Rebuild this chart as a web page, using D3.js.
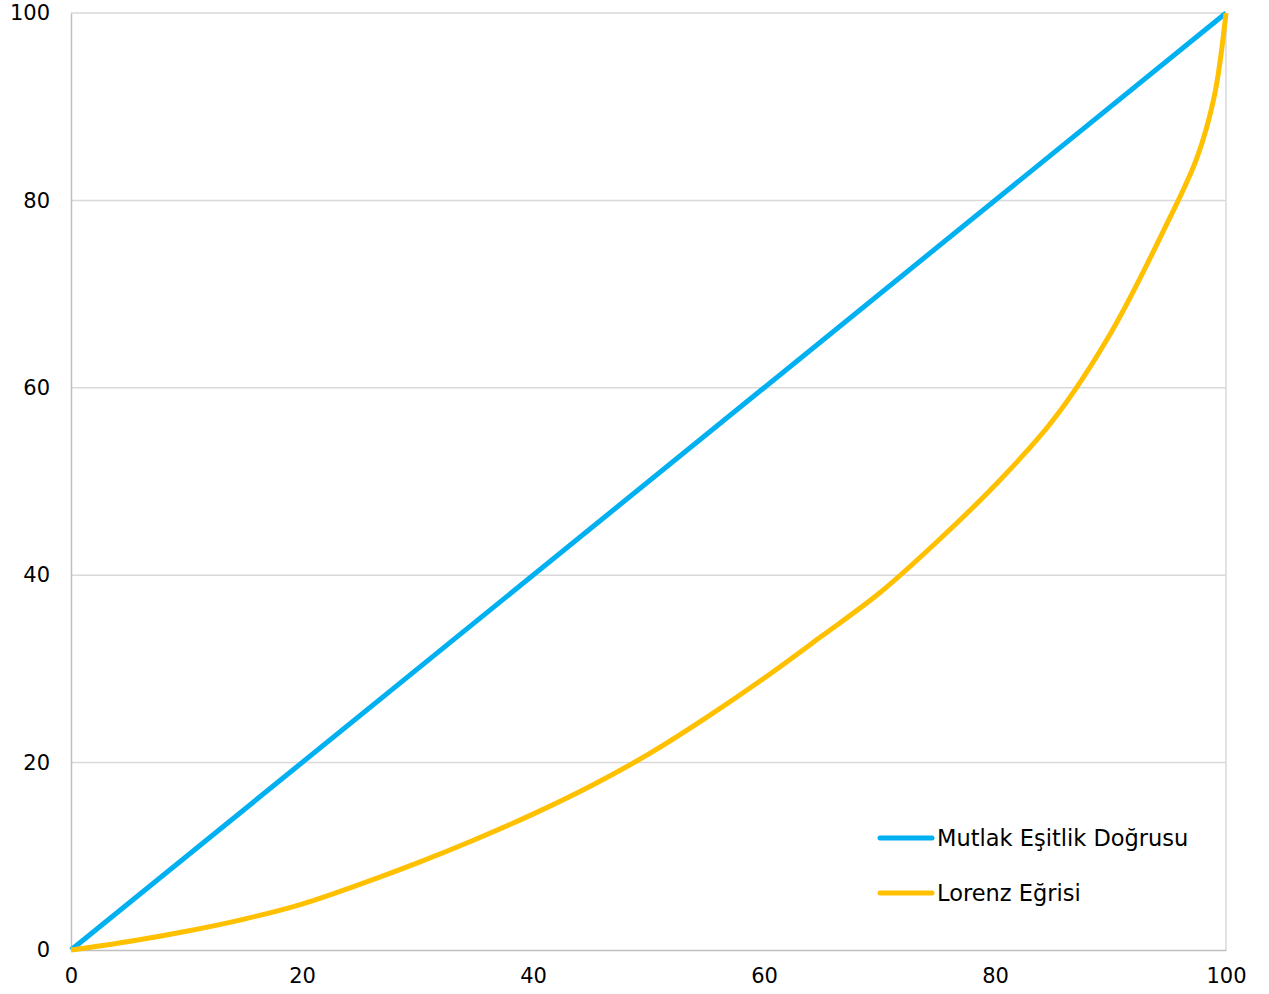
<!DOCTYPE html>
<html><head><meta charset="utf-8">
<script src="https://cdn.jsdelivr.net/npm/d3@7"></script>
<style>
html,body{margin:0;padding:0;background:#fff;}
text{font-family:"DejaVu Sans",sans-serif;fill:#000;}
</style></head>
<body><svg id="c" width="1269" height="994"></svg>
<script>
const xTicks = [0, 20, 40, 60, 80, 100];
const yTicks = [0, 20, 40, 60, 80, 100];
const equalityX = [0, 100];
const equalityY = [0, 100];
const lorenzX = [0, 5, 10, 15, 20, 25, 30, 35, 40, 45, 50, 55, 60, 65, 70, 75, 80, 85, 90, 95, 97.5, 99, 100];
const lorenzY = [0, 0.9, 2.0, 3.3, 4.9, 7.0, 9.3, 11.8, 14.5, 17.5, 20.9, 24.8, 29.0, 33.5, 38.1, 43.6, 49.6, 56.5, 65.8, 77.8, 84.6, 91.2, 100];
const seriesNames = ["Mutlak Eşitlik Doğrusu", "Lorenz Eğrisi"];
const seriesColors = ["#00B0F0", "#FFC000"];

const svg = d3.select("#c");
const L = 71, R = 1226, T = 13, B = 950;
const x = d3.scaleLinear().domain([0, 100]).range([L, R]);
const y = d3.scaleLinear().domain([0, 100]).range([B, T]);

svg.append("g").selectAll("line").data(yTicks.filter(d => d > 0)).join("line")
  .attr("x1", L).attr("x2", R).attr("y1", d => y(d)).attr("y2", d => y(d))
  .attr("stroke", "#D9D9D9").attr("stroke-width", 1.5);
svg.append("line").attr("x1", R).attr("x2", R).attr("y1", T).attr("y2", B)
  .attr("stroke", "#D9D9D9").attr("stroke-width", 1.5);

const xAxis = svg.append("g").attr("transform", `translate(0,${B})`)
  .call(d3.axisBottom(x).tickValues(xTicks).tickSize(0).tickPadding(18));
const yAxis = svg.append("g").attr("transform", `translate(${L},0)`)
  .call(d3.axisLeft(y).tickValues(yTicks).tickSize(0).tickPadding(21));
[xAxis, yAxis].forEach(a => {
  a.select(".domain").attr("stroke", "#BFBFBF").attr("stroke-width", 1.5);
  a.selectAll("text").style("font-size", "21px").style("font-family", "'DejaVu Sans', sans-serif").attr("fill", "#000");
});

const line = d3.line().x(d => x(d[0])).y(d => y(d[1]));
svg.append("path").datum(equalityX.map((v, i) => [v, equalityY[i]]))
  .attr("d", line).attr("fill", "none").attr("stroke", seriesColors[0]).attr("stroke-width", 5);
svg.append("path").datum(lorenzX.map((v, i) => [v, lorenzY[i]]))
  .attr("d", line.curve(d3.curveCatmullRom.alpha(0.5))).attr("fill", "none").attr("stroke", seriesColors[1]).attr("stroke-width", 5);

const leg = svg.append("g");
seriesNames.forEach((n, i) => {
  const yy = 838 + i * 55;
  leg.append("line").attr("x1", 880).attr("x2", 932).attr("y1", yy).attr("y2", yy)
    .attr("stroke", seriesColors[i]).attr("stroke-width", 5).attr("stroke-linecap", "round");
  leg.append("text").attr("x", 937).attr("y", yy).attr("dy", "0.35em")
    .style("font-size", "22.5px").text(n);
});
</script></body></html>
